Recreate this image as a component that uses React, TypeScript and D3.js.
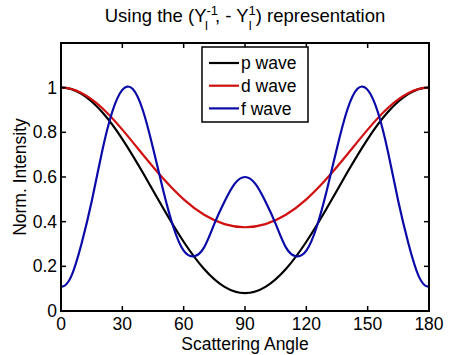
import React from "react";
import * as d3 from "d3";

const anglesCoarse = [0, 10, 20, 30, 40, 50, 60, 70, 80, 90, 100, 110, 120, 130, 140, 150, 160, 170, 180];
const pWave = [1, 0.972, 0.892, 0.77, 0.62, 0.46, 0.31, 0.188, 0.108, 0.08, 0.108, 0.188, 0.31, 0.46, 0.62, 0.77, 0.892, 0.972, 1];
const dWave = [1, 0.976, 0.91, 0.812, 0.701, 0.593, 0.5, 0.431, 0.389, 0.375, 0.389, 0.431, 0.5, 0.593, 0.701, 0.812, 0.91, 0.976, 1];
const anglesFine = [0, 5, 10, 15, 20, 25, 30, 35, 40, 45, 50, 55, 60, 65, 70, 75, 80, 85, 90,
  95, 100, 105, 110, 115, 120, 125, 130, 135, 140, 145, 150, 155, 160, 165, 170, 175, 180];
const fWave = [0.11, 0.155, 0.30, 0.49, 0.71, 0.89, 0.99, 0.995, 0.90, 0.73, 0.54, 0.375, 0.27, 0.245, 0.285, 0.39, 0.49, 0.57, 0.6,
  0.57, 0.49, 0.39, 0.285, 0.245, 0.27, 0.375, 0.54, 0.73, 0.90, 0.995, 0.99, 0.89, 0.71, 0.49, 0.30, 0.155, 0.11];
const xTicks = [0, 30, 60, 90, 120, 150, 180];
const yTicks = [0, 0.2, 0.4, 0.6, 0.8, 1];
const seriesNames = ["p wave", "d wave", "f wave"];
const seriesColors = ["#000000", "#d01010", "#0a0aa8"];

// mirror the end points across 0° and 180° (the distributions are symmetric there)
function padSymmetric(pts: [number, number][]): [number, number][] {
  const n = pts.length;
  const pre: [number, number] = [-pts[1][0], pts[1][1]];
  const post: [number, number] = [2 * pts[n - 1][0] - pts[n - 2][0], pts[n - 2][1]];
  return [pre, ...pts, post];
}

export default function App() {
  const W = 474, H = 355;
  const left = 61, right = 429, top = 43, bottom = 311;
  const x = d3.scaleLinear().domain([0, 180]).range([left, right]);
  const y = d3.scaleLinear().domain([0, 1.2]).range([bottom, top]);
  const line = d3.line<[number, number]>().x(d => x(d[0])).y(d => y(d[1])).curve(d3.curveNatural);
  const series: [number, number][][] = [
    anglesCoarse.map((a, i) => [a, pWave[i]] as [number, number]),
    anglesCoarse.map((a, i) => [a, dWave[i]] as [number, number]),
    anglesFine.map((a, i) => [a, fWave[i]] as [number, number]),
  ];
  const font = "Arial, 'Liberation Sans', Helvetica, sans-serif";
  const fs = 17.5;
  const tick = 5;
  return (
    <svg width={W} height={H} style={{ position: "absolute", left: 0, top: 0, background: "#fff" }} fontFamily={font}>
      <defs>
        <clipPath id="plotclip">
          <rect x={left} y={top - 10} width={right - left} height={bottom - top + 10} />
        </clipPath>
      </defs>
      <rect x={0} y={0} width={W} height={H} fill="#fff" />
      {/* title */}
      <text x={(left + right) / 2} y={22} textAnchor="middle" fontSize={18.5} fill="#000">
        <tspan>Using the (Y</tspan>
        <tspan fontSize={13} dy={-7}>-1</tspan>
        <tspan fontSize={13} dx={-13} dy={15}>l</tspan>
        <tspan dx={7} dy={-8}>, - Y</tspan>
        <tspan fontSize={13} dy={-7}>1</tspan>
        <tspan fontSize={13} dx={-7} dy={15}>l</tspan>
        <tspan dx={4} dy={-8}>) representation</tspan>
      </text>
      {/* curves */}
      <g clipPath="url(#plotclip)">
        {series.map((s, i) => (
          <path key={i} d={line(padSymmetric(s)) || ""} fill="none" stroke={seriesColors[i]} strokeWidth={2.2} />
        ))}
      </g>
      {/* frame */}
      <rect x={left} y={top} width={right - left} height={bottom - top} fill="none" stroke="#000" strokeWidth={2} />
      {/* x ticks */}
      {xTicks.map(t => (
        <g key={"x" + t}>
          <line x1={x(t)} x2={x(t)} y1={bottom} y2={bottom - tick} stroke="#000" strokeWidth={1.5} />
          <line x1={x(t)} x2={x(t)} y1={top} y2={top + tick} stroke="#000" strokeWidth={1.5} />
          <text x={x(t)} y={330} textAnchor="middle" fontSize={fs} fill="#000">{t}</text>
        </g>
      ))}
      {/* y ticks */}
      {yTicks.map(t => (
        <g key={"y" + t}>
          <line x1={left} x2={left + tick} y1={y(t)} y2={y(t)} stroke="#000" strokeWidth={1.5} />
          <line x1={right} x2={right - tick} y1={y(t)} y2={y(t)} stroke="#000" strokeWidth={1.5} />
          <text x={57} y={y(t)} dy="0.35em" textAnchor="end" fontSize={fs} fill="#000">{String(t)}</text>
        </g>
      ))}
      {/* axis labels */}
      <text x={(left + right) / 2} y={350} textAnchor="middle" fontSize={fs} fill="#000">Scattering Angle</text>
      <text transform={`translate(26,${(top + bottom) / 2}) rotate(-90)`} textAnchor="middle" fontSize={fs} fill="#000">Norm. Intensity</text>
      {/* legend */}
      <rect x={202} y={47} width={106} height={75} fill="#fff" stroke="#000" strokeWidth={1.5} />
      {seriesNames.map((n, i) => (
        <g key={n}>
          <line x1={209} x2={239} y1={63 + i * 22.7} y2={63 + i * 22.7} stroke={seriesColors[i]} strokeWidth={2.2} />
          <text x={241} y={63 + i * 22.7} dy="0.35em" fontSize={fs} fill="#000">{n}</text>
        </g>
      ))}
    </svg>
  );
}
